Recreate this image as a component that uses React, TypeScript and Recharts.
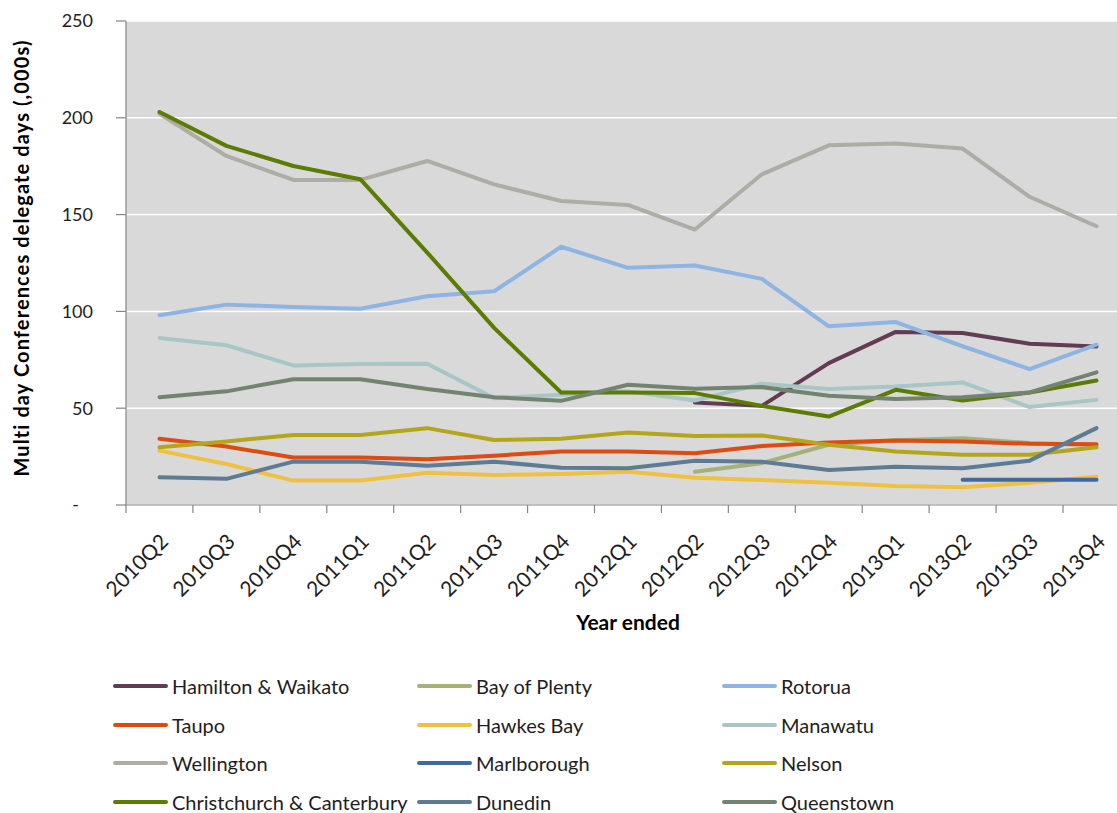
import React from 'react';
import { LineChart, Line, XAxis, YAxis, CartesianGrid } from 'recharts';

const QUARTERS = [
  '2010Q2', '2010Q3', '2010Q4', '2011Q1', '2011Q2', '2011Q3', '2011Q4', '2012Q1',
  '2012Q2', '2012Q3', '2012Q4', '2013Q1', '2013Q2', '2013Q3', '2013Q4',
];

// multi day conference delegate days, thousands
const HAMILTON = [null, null, null, null, null, null, null, null, 53, 51.2, 73.3, 89.4, 88.8, 83.3, 81.9];
const BAY_OF_PLENTY = [null, null, null, null, null, null, null, null, 17.2, 21.6, 31.1, 33.5, 34.5, 32, 31];
const ROTORUA = [98, 103.5, 102.3, 101.4, 107.8, 110.4, 133.4, 122.5, 123.7, 116.8, 92.3, 94.5, 82, 70.2, 82.8];
const TAUPO = [34.2, 30.2, 24.5, 24.5, 23.6, 25.5, 27.6, 27.6, 26.7, 30.5, 32.3, 33.3, 32.8, 31.6, 31.4];
const HAWKES_BAY = [28.1, 21.2, 12.6, 12.6, 16.7, 15.5, 16, 17.2, 14.1, 12.9, 11.5, 9.8, 9.2, 11.5, 14.6];
const MANAWATU = [86.3, 82.5, 72.1, 72.8, 73, 55.2, 56.9, 58.7, 54, 62.6, 59.9, 61.2, 63.3, 50.6, 54.3];
const WELLINGTON = [202, 180.3, 167.9, 167.9, 177.7, 165.6, 157, 155, 142.3, 170.8, 185.8, 186.7, 184.1, 159.2, 144];
const MARLBOROUGH = [null, null, null, null, null, null, null, null, null, null, null, null, 13, 13, 13];
const NELSON = [29.8, 32.8, 36.2, 36.2, 39.7, 33.6, 34.2, 37.4, 35.7, 35.9, 31.1, 27.6, 25.9, 25.9, 29.8];
const CHRISTCHURCH = [203, 185.5, 175.1, 168.3, 130.4, 91.5, 58.1, 58.1, 57.8, 51.2, 45.7, 59.5, 54, 58.1, 64.3];
const DUNEDIN = [14.3, 13.5, 22.4, 22.4, 20.3, 22.4, 19.3, 19, 22.8, 22.4, 18.1, 19.8, 19, 22.9, 39.7];
const QUEENSTOWN = [55.7, 58.7, 65, 65, 59.9, 55.7, 53.8, 62.1, 60, 60.9, 56.4, 54.7, 55.7, 58.1, 68.5];

const Y_TICKS = [0, 50, 100, 150, 200, 250];

const SERIES = [
  { key: 'hamilton', name: 'Hamilton & Waikato', values: HAMILTON, color: '#633c54' },
  { key: 'bop', name: 'Bay of Plenty', values: BAY_OF_PLENTY, color: '#a6b07a' },
  { key: 'rotorua', name: 'Rotorua', values: ROTORUA, color: '#8eb4e3' },
  { key: 'taupo', name: 'Taupo', values: TAUPO, color: '#dd4b13' },
  { key: 'hawkes', name: 'Hawkes Bay', values: HAWKES_BAY, color: '#f0c040' },
  { key: 'manawatu', name: 'Manawatu', values: MANAWATU, color: '#a9c6c6' },
  { key: 'wellington', name: 'Wellington', values: WELLINGTON, color: '#adada6' },
  { key: 'marlborough', name: 'Marlborough', values: MARLBOROUGH, color: '#3f6a9f' },
  { key: 'nelson', name: 'Nelson', values: NELSON, color: '#b5a51a' },
  { key: 'christchurch', name: 'Christchurch & Canterbury', values: CHRISTCHURCH, color: '#5b7c00' },
  { key: 'dunedin', name: 'Dunedin', values: DUNEDIN, color: '#5d7b94' },
  { key: 'queenstown', name: 'Queenstown', values: QUEENSTOWN, color: '#728470' },
];

const data = QUARTERS.map((q, i) => {
  const row: Record<string, any> = { q };
  SERIES.forEach(s => { row[s.key] = s.values[i]; });
  return row;
});

const FONT = 'Lato, "Noto Sans", sans-serif';
const AXIS = '#868686';
const TEXT = '#1e1e1e';
const HALF_BAND = 33.5; // Excel puts the category ticks between the points

const QuarterTick = ({ x, y, payload }: any) => (
  <g>
    <line x1={x - HALF_BAND} y1={y} x2={x - HALF_BAND} y2={y + 8} stroke={AXIS} strokeWidth={1.2} />
    <text
      x={x + 10}
      y={y + 38}
      textAnchor="end"
      fontSize={21}
      fontFamily={FONT}
      fill={TEXT}
      transform={`rotate(-45, ${x + 10}, ${y + 38})`}
    >
      {payload.value}
    </text>
  </g>
);

const ValueTick = ({ x, y, payload }: any) => (
  <text x={payload.value === 0 ? x - 14 : x} y={y} dy="0.36em" textAnchor="end" fontSize={18} fontFamily={FONT} fill={TEXT}>
    {payload.value === 0 ? '-' : payload.value}
  </text>
);

const YTitle = () => (
  <text
    x={29}
    y={258}
    textAnchor="middle"
    fontSize={20}
    letterSpacing={1.1}
    fontWeight="bold"
    fontFamily={FONT}
    fill="#000"
    transform="rotate(-90, 29, 258)"
  >
    Multi day Conferences delegate days (,000s)
  </text>
);

const XTitle = ({ viewBox }: any) => (
  <text
    x={viewBox.x + viewBox.width / 2}
    y={630}
    textAnchor="middle"
    fontSize={21}
    fontWeight="bold"
    fontFamily={FONT}
    fill="#000"
  >
    Year ended
  </text>
);

export default function App() {
  return (
    <div style={{ position: 'fixed', left: 0, top: 0, width: 1117, height: 813, overflow: 'hidden', background: '#fff', fontFamily: FONT }}>
      <LineChart width={1131} height={813} data={data} margin={{ top: 21, right: 1, bottom: 0, left: 0 }}>
        <CartesianGrid vertical={false} fill="#d9d9d9" stroke="#ffffff" strokeWidth={1.5} />
        <XAxis
          dataKey="q"
          interval={0}
          height={308}
          padding={{ left: HALF_BAND, right: HALF_BAND }}
          tickSize={0}
          tickMargin={0}
          tick={<QuarterTick />}
          axisLine={{ stroke: AXIS, strokeWidth: 1.2 }}
          label={<XTitle />}
        />
        <YAxis
          width={126}
          domain={[0, 250]}
          ticks={Y_TICKS}
          tickSize={10}
          tickMargin={23}
          axisLine={{ stroke: AXIS, strokeWidth: 1.2 }}
          tickLine={{ stroke: AXIS, strokeWidth: 1.2 }}
          tick={<ValueTick />}
          label={<YTitle />}
        />
        {SERIES.map(s => (
          <Line
            key={s.key}
            type="linear"
            dataKey={s.key}
            name={s.name}
            stroke={s.color}
            strokeWidth={4}
            strokeLinecap="round"
            strokeLinejoin="round"
            dot={false}
            activeDot={false}
            connectNulls={false}
            isAnimationActive={false}
          />
        ))}
      </LineChart>
      <div style={{ position: 'absolute', left: 113, top: 667, display: 'grid', gridTemplateColumns: '304px 305px 305px', gridAutoRows: '38.5px' }}>
        {SERIES.map(s => (
          <div key={s.key} style={{ display: 'flex', alignItems: 'center', fontSize: 20, color: TEXT, whiteSpace: 'nowrap' }}>
            <span style={{ display: 'inline-block', width: 55, height: 4, borderRadius: 2, background: s.color, marginRight: 4 }} />
            {s.name}
          </div>
        ))}
      </div>
    </div>
  );
}
